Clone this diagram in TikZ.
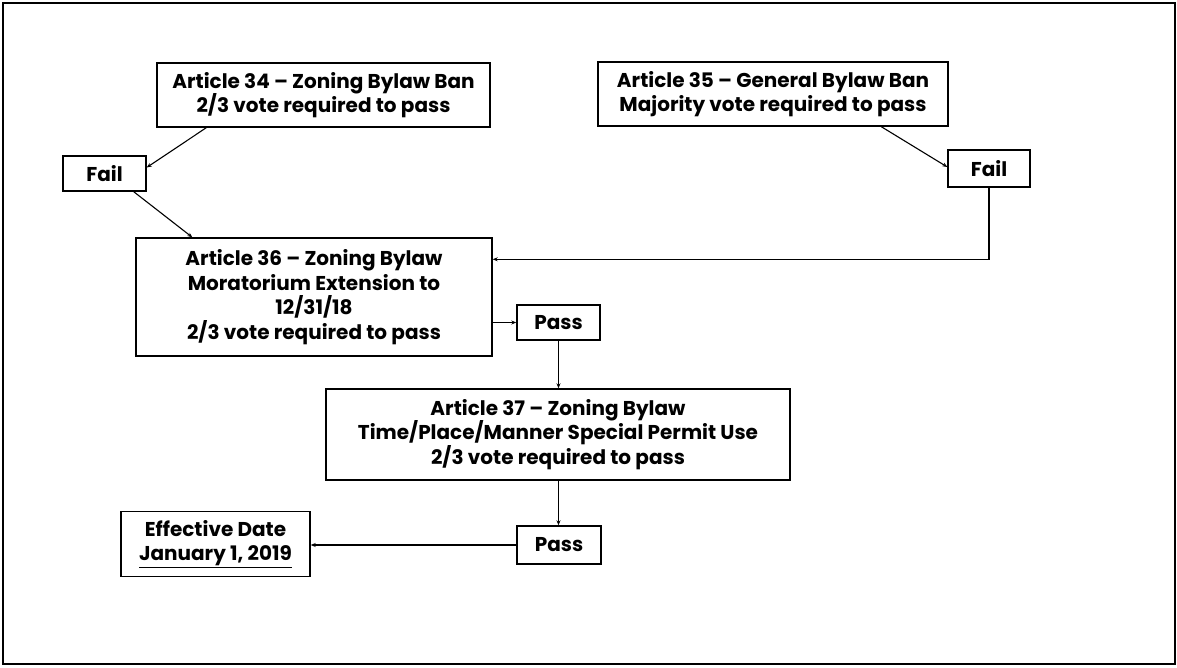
\documentclass[tikz,border=0pt]{standalone}
\usepackage{fontspec}
\setmainfont{Poppins}
\usetikzlibrary{arrows.meta,calc}
\tikzset{
  box/.style={draw=black, line width=1.4pt, inner sep=0pt, align=center,
    font=\fontsize{20}{24.5}\selectfont\bfseries},
  conn/.style={draw=black, line width=1.1pt, -{Stealth[length=5pt,width=4pt]}},
}
\begin{document}
\begin{tikzpicture}[x=1pt,y=-1pt]
\useasboundingbox (0,0) rectangle (1177,668);
\fill[white] (0,0) rectangle (1177,668);
\draw[line width=1.6pt] (3,3) rectangle (1175,664);

\node[box, minimum width=333pt, minimum height=64pt] (a34) at (323.5,95)
  {Article 34 -- Zoning Bylaw Ban\\2/3 vote required to pass};
\node[box, minimum width=83pt, minimum height=35pt] (f1) at (104.5,173.5) {Fail};
\node[box, minimum width=350pt, minimum height=64pt] (a35) at (773,94)
  {Article 35 -- General Bylaw Ban\\Majority vote required to pass};
\node[box, minimum width=82pt, minimum height=37pt] (f2) at (989,168.5) {Fail};
\node[box, minimum width=356pt, minimum height=118pt] (a36) at (314,297)
  {Article 36 -- Zoning Bylaw\\Moratorium Extension to\\12/31/18\\2/3 vote required to pass};
\node[box, minimum width=83pt, minimum height=35pt] (p1) at (558.5,322.5) {Pass};
\node[box, minimum width=464pt, minimum height=91pt] (a37) at (558,434.5)
  {Article 37 -- Zoning Bylaw\\Time/Place/Manner Special Permit Use\\2/3 vote required to pass};
\node[box, minimum width=84pt, minimum height=38pt] (p2) at (559,545) {Pass};
\node[box, minimum width=189pt, minimum height=65pt] (eff) at (215.5,544)
  {Effective Date\\\underline{January 1, 2019}};

\draw[conn] ($(a34.south west)+(50,0)$) -- ($(f1.east)+(0,-6)$);
\draw[conn] ($(f1.south east)+(-13,0)$) -- ($(a36.north west)+(57,0)$);
\draw[conn] ($(a35.south west)+(284,0)$) -- ($(f2.west)+(0,-1.5)$);
\draw[conn] (f2.south) |- ($(a36.north east)+(0,22)$);
\draw[conn] (p1.west -| a36.east) -- (p1.west);
\draw[conn] (p1.south) -- (p1.south |- a37.north);
\draw[conn] (p1.south |- a37.south) -- (p1.south |- p2.north);
\draw[conn] (p2.west) -- (p2.west -| eff.east);
\end{tikzpicture}
\end{document}
